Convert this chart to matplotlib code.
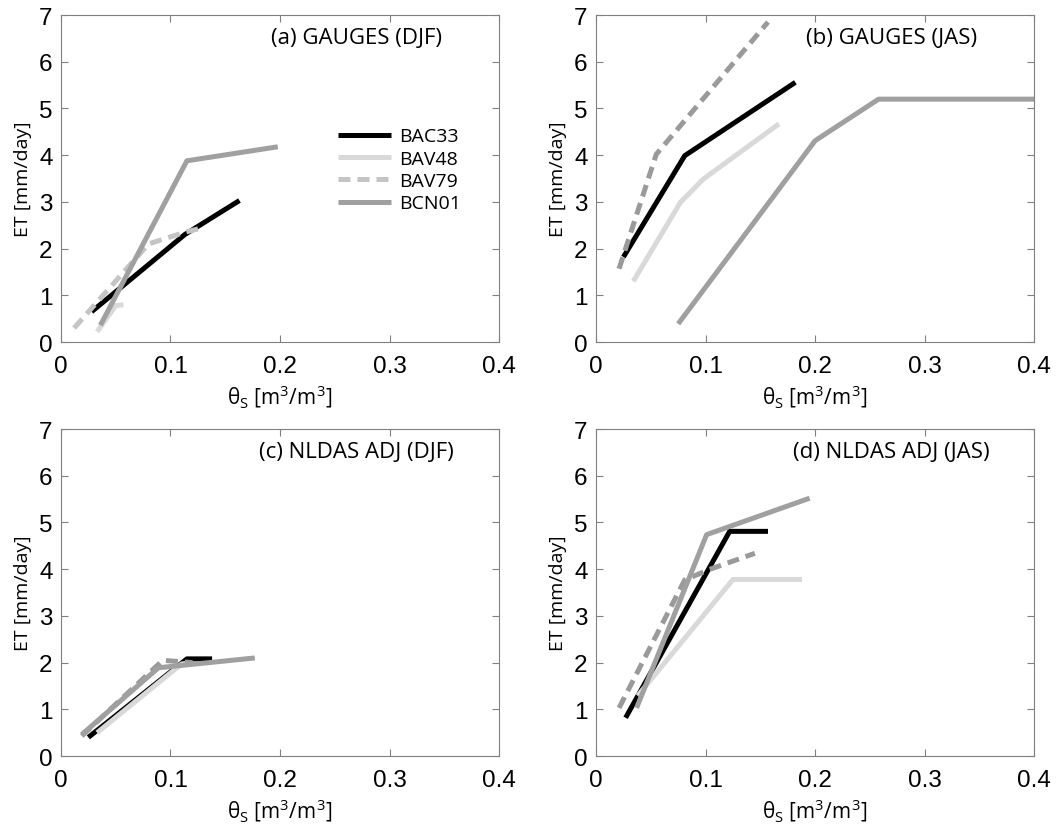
import numpy as np
import matplotlib
matplotlib.use("Agg")
from matplotlib import pyplot as plt

# station names and line styling
stations = ["BAC33", "BAV48", "BAV79", "BCN01"]

# soil moisture (x) and ET (y) values
# (a) GAUGES (DJF)
a_x = [[0.028, 0.113, 0.163],
       [0.033, 0.050, 0.057],
       [0.012, 0.080, 0.113, 0.130],
       [0.036, 0.115, 0.198]]
a_y = [[0.65, 2.30, 3.03],
       [0.22, 0.78, 0.80],
       [0.30, 2.10, 2.35, 2.45],
       [0.36, 3.88, 4.18]]

# (b) GAUGES (JAS)
b_x = [[0.025, 0.081, 0.182],
       [0.034, 0.077, 0.098, 0.167],
       [0.021, 0.055, 0.157],
       [0.075, 0.200, 0.258, 0.400]]
b_y = [[1.82, 3.99, 5.56],
       [1.30, 2.99, 3.49, 4.67],
       [1.57, 4.02, 6.85],
       [0.39, 4.31, 5.20, 5.20]]

# (c) NLDAS ADJ (DJF)
c_x = [[0.025, 0.115, 0.138],
       [0.033, 0.110, 0.120],
       [0.019, 0.093, 0.120],
       [0.019, 0.089, 0.177]]
c_y = [[0.40, 2.08, 2.08],
       [0.50, 1.97, 2.00],
       [0.43, 2.05, 2.00],
       [0.46, 1.89, 2.10]]

# (d) NLDAS ADJ (JAS)
d_x = [[0.027, 0.122, 0.157],
       [0.038, 0.125, 0.188],
       [0.021, 0.081, 0.103, 0.145],
       [0.037, 0.101, 0.195]]
d_y = [[0.82, 4.81, 4.81],
       [1.29, 3.78, 3.78],
       [1.03, 3.77, 3.99, 4.34],
       [1.03, 4.74, 5.52]]

titles = ["(a) GAUGES (DJF)", "(b) GAUGES (JAS)",
          "(c) NLDAS ADJ (DJF)", "(d) NLDAS ADJ (JAS)"]
xticks = [0, 0.1, 0.2, 0.3, 0.4]
xticklabels = ["0", "0.1", "0.2", "0.3", "0.4"]
yticks = [0, 1, 2, 3, 4, 5, 6, 7]

plt.rcParams['mathtext.fontset'] = 'custom'
plt.rcParams['mathtext.rm'] = 'Open Sans'
plt.rcParams['mathtext.it'] = 'Open Sans:italic'

fig = plt.figure(figsize=(10.64, 8.28), dpi=100)

# axes positions in figure fractions
lefts = [0.0573, 0.5602, 0.0573, 0.5602]
bottoms = [0.5857, 0.5857, 0.0857, 0.0857]
w, h = 0.4117, 0.3949

data = [(a_x, a_y), (b_x, b_y), (c_x, c_y), (d_x, d_y)]
dash_colors = ['#c4c4c4', '#9a9a9a', '#9a9a9a', '#9a9a9a']

for i in range(4):
    ax = fig.add_axes([lefts[i], bottoms[i], w, h])
    xs, ys = data[i]
    colors = ['black', '#d9d9d9', dash_colors[i], '#a0a0a0']
    for j, name in enumerate(stations):
        if j == 2:
            ax.plot(xs[j], ys[j], color=colors[j], lw=3.6, label=name,
                    dashes=(2.4, 1.4), solid_capstyle='butt')
        else:
            ax.plot(xs[j], ys[j], color=colors[j], lw=3.6, label=name,
                    solid_capstyle='butt')

    ax.set_xlim(0, 0.4)
    ax.set_ylim(0, 7)
    ax.set_xticks(xticks)
    ax.set_xticklabels(xticklabels, family='Liberation Sans', fontsize=17.5)
    ax.set_yticks(yticks)
    ax.set_yticklabels([str(t) for t in yticks], family='Liberation Sans', fontsize=17.5)
    ax.tick_params(direction='in', length=5, width=0.8, color='#808080',
                   top=True, right=True, pad=6)
    ax.tick_params(axis='x', pad=9)
    for s in ax.spines.values():
        s.set_color('#808080')
        s.set_linewidth(0.8)

    ax.set_ylabel("ET [mm/day]", family='Open Sans', fontsize=14, labelpad=5)
    ax.set_xlabel(r"θ$_\mathrm{S}$ [m$^3$/m$^3$]", family='Open Sans',
                  fontsize=15, labelpad=4)
    ax.text(0.675, 0.93, titles[i], transform=ax.transAxes, ha='center',
            va='center', family='Open Sans', fontsize=16)

    if i == 0:
        ax.legend(loc='upper left', bbox_to_anchor=(0.615, 0.68), frameon=False,
                  prop={'family': 'Open Sans', 'size': 14},
                  handlelength=2.7, handletextpad=0.45, labelspacing=0.22,
                  borderaxespad=0)

fig.savefig("out.png", dpi=100)
